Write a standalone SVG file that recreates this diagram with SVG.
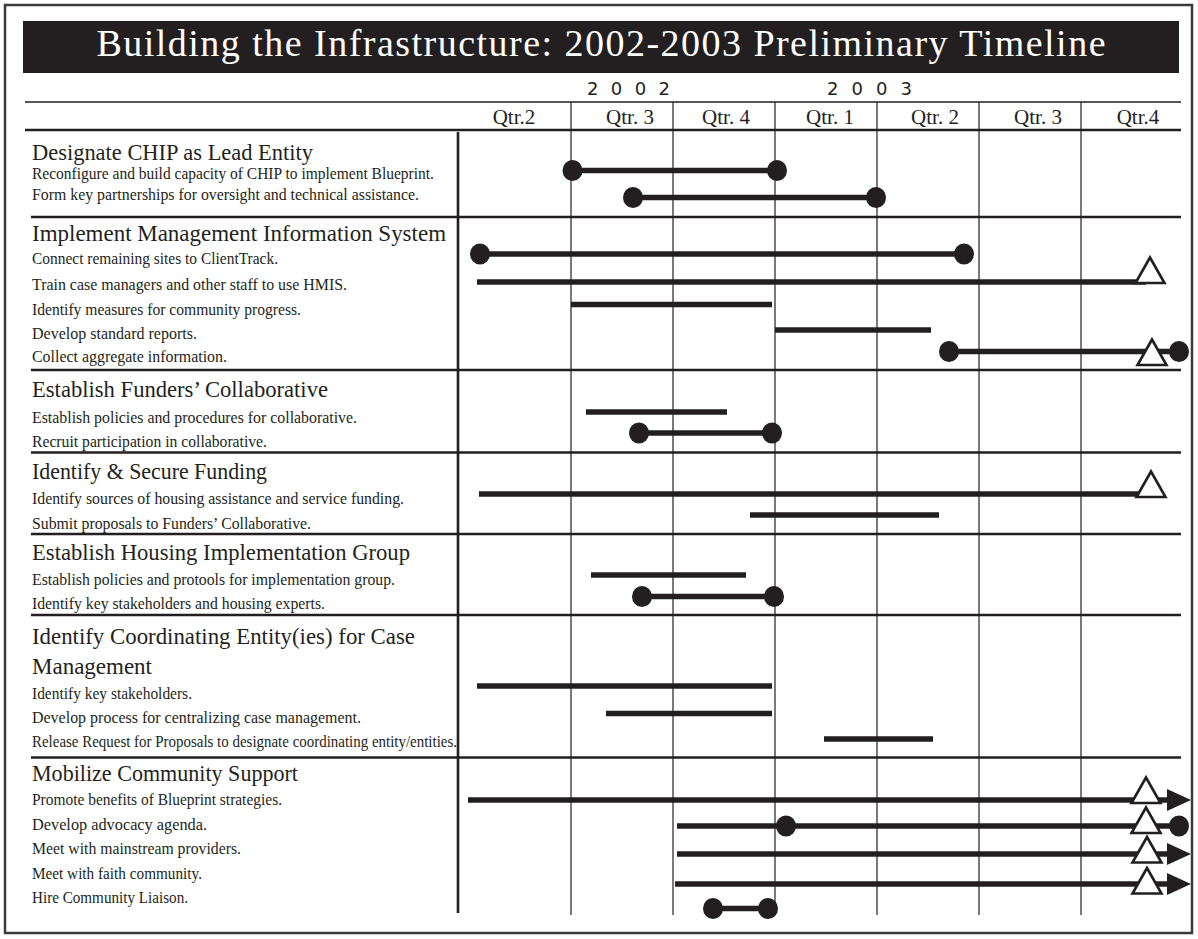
<svg xmlns="http://www.w3.org/2000/svg" xmlns:xlink="http://www.w3.org/1999/xlink" width="1198" height="939" viewBox="0 0 1198 939">
<style>
.frame{fill:none;stroke:#3a3a3a;stroke-width:2.5}
.title{font-family:"Liberation Serif","Times New Roman",serif;font-size:38px;fill:#ffffff}
.year{font-family:"DejaVu Sans","Liberation Sans",sans-serif;font-size:18px;fill:#231f20}
.qtr{font-family:"Liberation Serif","Times New Roman",serif;font-size:21px;fill:#231f20;text-anchor:middle}
.head{font-family:"Liberation Serif","Times New Roman",serif;font-size:24px;fill:#231f20}
.item{font-family:"Liberation Serif","Times New Roman",serif;font-size:17px;fill:#231f20}
.thin{stroke:#231f20;stroke-width:1.3;fill:none}
.thick{stroke:#231f20;stroke-width:2.6;fill:none}
.grid{stroke:#231f20;stroke-width:1.2;fill:none}
.bar{stroke:#231f20;stroke-width:5.5;fill:none}
.dot{fill:#231f20}
.tri{fill:#ffffff;stroke:#231f20;stroke-width:2.6;stroke-linejoin:miter}
.arr{fill:#231f20}
</style>
<defs>
<ellipse id="dot" rx="10" ry="10.5" class="dot"/>
<path id="tri" d="M0,-25.5 L14.5,0 L-14.5,0 Z" class="tri"/>
<path id="arr" d="M0,-11 L24,0 L0,11 Z" class="arr"/>
</defs>
<rect x="0" y="0" width="1198" height="939" fill="#ffffff"/>
<rect class="frame" x="5" y="5" width="1187" height="928"/>
<g id="title">
<rect x="23" y="21" width="1156" height="52" fill="#231f20"/>
<text class="title" x="601" y="56" text-anchor="middle" textLength="1009" lengthAdjust="spacing">Building the Infrastructure: 2002-2003 Preliminary Timeline</text>
</g>
<g id="header">
<text class="year" x="587" y="95" textLength="83" lengthAdjust="spacing">2002</text>
<text class="year" x="827" y="95" textLength="85" lengthAdjust="spacing">2003</text>
<line class="thin" x1="25" y1="102" x2="1181" y2="102"/>
<text class="qtr" x="514" y="124">Qtr.2</text>
<text class="qtr" x="630" y="124">Qtr. 3</text>
<text class="qtr" x="726" y="124">Qtr. 4</text>
<text class="qtr" x="830" y="124">Qtr. 1</text>
<text class="qtr" x="935" y="124">Qtr. 2</text>
<text class="qtr" x="1038" y="124">Qtr. 3</text>
<text class="qtr" x="1138" y="124">Qtr.4</text>
<line class="thick" x1="25" y1="130" x2="1181" y2="130"/>
</g>
<g id="grid">
<line class="grid" x1="571" y1="102" x2="571" y2="915"/>
<line class="grid" x1="673" y1="102" x2="673" y2="915"/>
<line class="grid" x1="775" y1="102" x2="775" y2="915"/>
<line class="grid" x1="877" y1="102" x2="877" y2="915"/>
<line class="grid" x1="979" y1="102" x2="979" y2="915"/>
<line class="grid" x1="1081" y1="102" x2="1081" y2="915"/>
<line class="thick" x1="458" y1="132" x2="458" y2="913"/>
<line class="thick" x1="31" y1="217" x2="1181" y2="217"/>
<line class="thick" x1="31" y1="370" x2="1181" y2="370"/>
<line class="thick" x1="31" y1="452.5" x2="1181" y2="452.5"/>
<line class="thick" x1="31" y1="534" x2="1181" y2="534"/>
<line class="thick" x1="31" y1="615" x2="1181" y2="615"/>
<line class="thick" x1="31" y1="757.5" x2="1181" y2="757.5"/>
</g>
<g id="sec-chip">
<text class="head" x="32" y="159.5" textLength="281" lengthAdjust="spacingAndGlyphs">Designate CHIP as Lead Entity</text>
<text class="item" x="32" y="178.5" textLength="402" lengthAdjust="spacingAndGlyphs">Reconfigure and build capacity of CHIP to implement Blueprint.</text>
<text class="item" x="32" y="199.5" textLength="387" lengthAdjust="spacingAndGlyphs">Form key partnerships for oversight and technical assistance.</text>
</g>
<g id="sec-hmis">
<text class="head" x="32" y="241" textLength="414" lengthAdjust="spacingAndGlyphs">Implement Management Information System</text>
<text class="item" x="32" y="263.5" textLength="246" lengthAdjust="spacingAndGlyphs">Connect remaining sites to ClientTrack.</text>
<text class="item" x="32" y="290" textLength="315" lengthAdjust="spacingAndGlyphs">Train case managers and other staff to use HMIS.</text>
<text class="item" x="32" y="314.5" textLength="269" lengthAdjust="spacingAndGlyphs">Identify measures for community progress.</text>
<text class="item" x="32" y="338.5" textLength="165" lengthAdjust="spacingAndGlyphs">Develop standard reports.</text>
<text class="item" x="32" y="362" textLength="195" lengthAdjust="spacingAndGlyphs">Collect aggregate information.</text>
</g>
<g id="sec-funders">
<text class="head" x="32" y="397" textLength="296" lengthAdjust="spacingAndGlyphs">Establish Funders’ Collaborative</text>
<text class="item" x="32" y="422.5" textLength="325" lengthAdjust="spacingAndGlyphs">Establish policies and procedures for collaborative.</text>
<text class="item" x="32" y="447" textLength="235" lengthAdjust="spacingAndGlyphs">Recruit participation in collaborative.</text>
</g>
<g id="sec-funding">
<text class="head" x="32" y="478.5" textLength="235" lengthAdjust="spacingAndGlyphs">Identify &amp; Secure Funding</text>
<text class="item" x="32" y="504" textLength="372" lengthAdjust="spacingAndGlyphs">Identify sources of housing assistance and service funding.</text>
<text class="item" x="32" y="528.5" textLength="279" lengthAdjust="spacingAndGlyphs">Submit proposals to Funders’ Collaborative.</text>
</g>
<g id="sec-housing">
<text class="head" x="32" y="560" textLength="378" lengthAdjust="spacingAndGlyphs">Establish Housing Implementation Group</text>
<text class="item" x="32" y="585" textLength="363" lengthAdjust="spacingAndGlyphs">Establish policies and protools for implementation group.</text>
<text class="item" x="32" y="608.5" textLength="293" lengthAdjust="spacingAndGlyphs">Identify key stakeholders and housing experts.</text>
</g>
<g id="sec-coord">
<text class="head" x="32" y="643.5" textLength="383" lengthAdjust="spacingAndGlyphs">Identify Coordinating Entity(ies) for Case</text>
<text class="head" x="32" y="673.5" textLength="120" lengthAdjust="spacingAndGlyphs">Management</text>
<text class="item" x="32" y="698.5" textLength="160" lengthAdjust="spacingAndGlyphs">Identify key stakeholders.</text>
<text class="item" x="32" y="723" textLength="329" lengthAdjust="spacingAndGlyphs">Develop process for centralizing case management.</text>
<text class="item" x="32" y="747" textLength="425" lengthAdjust="spacingAndGlyphs">Release Request for Proposals to designate coordinating entity/entities.</text>
</g>
<g id="sec-mobilize">
<text class="head" x="32" y="781" textLength="266" lengthAdjust="spacingAndGlyphs">Mobilize Community Support</text>
<text class="item" x="32" y="805" textLength="250" lengthAdjust="spacingAndGlyphs">Promote benefits of Blueprint strategies.</text>
<text class="item" x="32" y="829.5" textLength="175" lengthAdjust="spacingAndGlyphs">Develop advocacy agenda.</text>
<text class="item" x="32" y="854" textLength="209" lengthAdjust="spacingAndGlyphs">Meet with mainstream providers.</text>
<text class="item" x="32" y="878.5" textLength="170" lengthAdjust="spacingAndGlyphs">Meet with faith community.</text>
<text class="item" x="32" y="903" textLength="156" lengthAdjust="spacingAndGlyphs">Hire Community Liaison.</text>
</g>
<g id="connectors">
<line class="bar" x1="572.5" y1="170.5" x2="777" y2="170.5"/>
<use xlink:href="#dot" x="572.5" y="170.5"/><use xlink:href="#dot" x="777" y="170.5"/>
<line class="bar" x1="633" y1="197.5" x2="876" y2="197.5"/>
<use xlink:href="#dot" x="633" y="197.5"/><use xlink:href="#dot" x="876" y="197.5"/>
<line class="bar" x1="480" y1="254" x2="964" y2="254"/>
<use xlink:href="#dot" x="480" y="254"/><use xlink:href="#dot" x="964" y="254"/>
<line class="bar" x1="477" y1="282" x2="1146" y2="282"/>
<use xlink:href="#tri" x="1150" y="283"/>
<line class="bar" x1="571" y1="304.5" x2="772" y2="304.5"/>
<line class="bar" x1="775" y1="330" x2="931" y2="330"/>
<line class="bar" x1="949" y1="351.5" x2="1179" y2="351.5"/>
<use xlink:href="#dot" x="949" y="351.5"/>
<use xlink:href="#tri" x="1152" y="365"/>
<use xlink:href="#dot" x="1179" y="351.5"/>
<line class="bar" x1="586" y1="412" x2="727" y2="412"/>
<line class="bar" x1="639" y1="433" x2="772" y2="433"/>
<use xlink:href="#dot" x="639" y="433"/><use xlink:href="#dot" x="772" y="433"/>
<line class="bar" x1="479" y1="494" x2="1145" y2="494"/>
<use xlink:href="#tri" x="1151" y="497"/>
<line class="bar" x1="750" y1="515" x2="939" y2="515"/>
<line class="bar" x1="591" y1="575" x2="746" y2="575"/>
<line class="bar" x1="642" y1="596.5" x2="774" y2="596.5"/>
<use xlink:href="#dot" x="642" y="596.5"/><use xlink:href="#dot" x="774" y="596.5"/>
<line class="bar" x1="477" y1="686" x2="772" y2="686"/>
<line class="bar" x1="606" y1="713.5" x2="772" y2="713.5"/>
<line class="bar" x1="824" y1="739" x2="933" y2="739"/>
<line class="bar" x1="468" y1="800" x2="1170" y2="800"/>
<use xlink:href="#tri" x="1146" y="803"/>
<use xlink:href="#arr" x="1167" y="800"/>
<line class="bar" x1="677" y1="826" x2="1179" y2="826"/>
<use xlink:href="#dot" x="786" y="826"/>
<use xlink:href="#tri" x="1146" y="833"/>
<use xlink:href="#dot" x="1179" y="826"/>
<line class="bar" x1="677" y1="854" x2="1170" y2="854"/>
<use xlink:href="#tri" x="1147" y="862.5"/>
<use xlink:href="#arr" x="1167" y="854"/>
<line class="bar" x1="675" y1="884" x2="1170" y2="884"/>
<use xlink:href="#tri" x="1147" y="893.5"/>
<use xlink:href="#arr" x="1167" y="884"/>
<line class="bar" x1="713" y1="908.5" x2="768" y2="908.5"/>
<use xlink:href="#dot" x="713" y="908.5"/><use xlink:href="#dot" x="768" y="908.5"/>
</g>
</svg>
